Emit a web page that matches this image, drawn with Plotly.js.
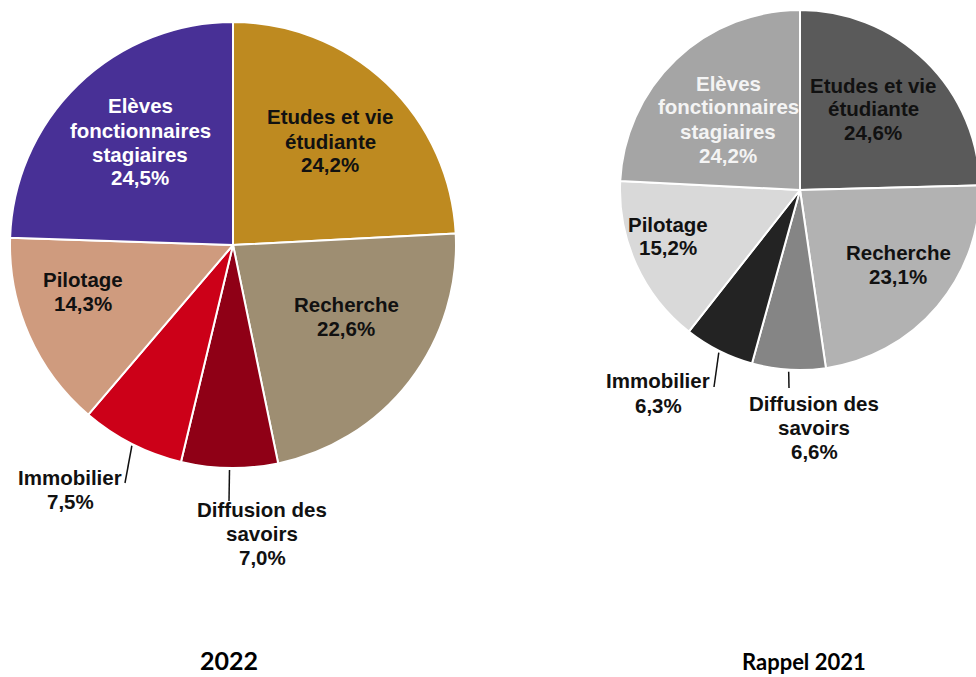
<!DOCTYPE html>
<html><head><meta charset="utf-8">
<script src="https://cdn.plot.ly/plotly-3.0.1.min.js"></script>
<style>html,body{margin:0;padding:0;overflow:hidden;background:#fff}#chart{width:984px;height:677px}</style>
</head><body><div id="chart"></div>
<script>
// ---- data ----
const categories = ["Etudes et vie étudiante", "Recherche", "Diffusion des savoirs", "Immobilier", "Pilotage", "Elèves fonctionnaires stagiaires"];
const labelLines = [["Etudes et vie", "étudiante"], ["Recherche"], ["Diffusion des", "savoirs"], ["Immobilier"], ["Pilotage"], ["Elèves", "fonctionnaires", "stagiaires"]];
const values2022 = [24.2, 22.6, 7.0, 7.5, 14.3, 24.5];
const values2021 = [24.6, 23.1, 6.6, 6.3, 15.2, 24.2];
const colors2022 = ["#BE8A20", "#9E8E72", "#8F0016", "#CC0018", "#CF9B7E", "#483096"];
const colors2021 = ["#5A5A5A", "#B2B2B2", "#858585", "#232323", "#D9D9D9", "#A5A5A5"];
const textColors2022 = ["#111", "#111", "#111", "#111", "#111", "#fff"];
const textColors2021 = ["#111", "#111", "#111", "#111", "#111", "#f4f4f4"];
const titles = ["2022", "Rappel 2021"];

// ---- layout geometry (pixels) ----
const W = 984, H = 677;
const px = x => x / W, py = y => 1 - y / H;
const pies = [
  {values: values2022, colors: colors2022, textColors: textColors2022, cx: 233, cy: 245, r: 223,
   labelPos: [[330, 117], [346, 304], [262, 509], [70, 477], [83, 279], [140, 106]],
   outside: {2: [229, 501], 3: [125, 483]},
   title: {x: 229, y: 660, size: 25}},
  {values: values2021, colors: colors2021, textColors: textColors2021, cx: 800, cy: 190, r: 180,
   labelPos: [[873, 85], [898, 252], [814, 403], [658, 381], [668, 224], [728, 83]],
   outside: {2: [789, 388], 3: [714, 387]},
   title: {x: 804, y: 661, size: 22}}
];
const lineGap = 24;
const fmt = v => v.toFixed(1).replace('.', ',') + '%';

const traces = [], annotations = [], shapes = [];
pies.forEach((p, k) => {
  traces.push({
    type: 'pie', values: p.values, labels: categories, sort: false, direction: 'clockwise', rotation: 0,
    marker: {colors: p.colors, line: {color: '#ffffff', width: 2}},
    textinfo: 'none', hoverinfo: 'label+percent', showlegend: false,
    domain: {x: [px(p.cx - p.r), px(p.cx + p.r)], y: [py(p.cy + p.r), py(p.cy - p.r)]}
  });
  const total = p.values.reduce((a, b) => a + b, 0);
  let cum = 0;
  p.values.forEach((v, i) => {
    const lines = labelLines[i].concat([fmt(v)]);
    const [lx, ly] = p.labelPos[i];
    lines.forEach((t, j) => {
      annotations.push({xref: 'paper', yref: 'paper', x: px(lx), y: py(ly + j * lineGap),
        text: t, showarrow: false, xanchor: 'center', yanchor: 'middle',
        font: {family: 'Liberation Sans, Arial, sans-serif', size: 20.5, color: p.textColors[i], weight: 'bold'}});
    });
    if (p.outside[i]) {
      const a = 2 * Math.PI * (cum + v / 2) / total;
      const sx = p.cx + p.r * Math.sin(a), sy = p.cy - p.r * Math.cos(a);
      const [ex, ey] = p.outside[i];
      shapes.push({type: 'line', xref: 'paper', yref: 'paper', x0: px(sx), y0: py(sy + 2), x1: px(ex), y1: py(ey),
        line: {color: '#111', width: 1.5}});
    }
    cum += v;
  });
  annotations.push({xref: 'paper', yref: 'paper', x: px(p.title.x), y: py(p.title.y), text: titles[k],
    showarrow: false, xanchor: 'center', yanchor: 'middle',
    font: {family: 'Lato, Open Sans, sans-serif', size: p.title.size, color: '#000', weight: 'bold'}});
});

Plotly.newPlot('chart', traces, {
  width: W, height: H, margin: {l: 0, r: 0, t: 0, b: 0},
  paper_bgcolor: '#fff', plot_bgcolor: '#fff', showlegend: false,
  annotations: annotations, shapes: shapes
}, {staticPlot: true, displayModeBar: false});
</script></body></html>
